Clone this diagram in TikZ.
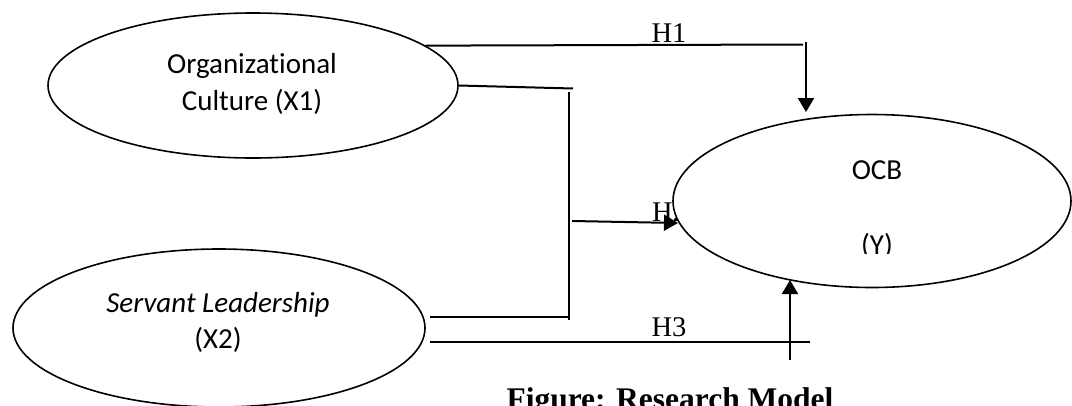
\documentclass[tikz,border=0pt]{standalone}
\usepackage{fontspec}
\setmainfont{Liberation Serif}
\newfontfamily\calibrifont[Ligatures=NoCommon]{Carlito}
\usetikzlibrary{shapes.geometric,arrows.meta}
\tikzset{
  construct/.style={draw, ellipse, line width=1.6pt, inner sep=0pt, fill=white},
  ctext/.style={anchor=base, inner sep=0pt, font=\calibrifont\fontsize{29}{35}\selectfont},
  hlabel/.style={anchor=base, inner sep=0pt, font=\fontsize{28.5}{34}\selectfont},
  conn/.style={line width=2pt},
  arr/.style={line width=2pt, -{Triangle[width=16pt,length=14pt]}},
}
\begin{document}
\begin{tikzpicture}[x=1pt,y=-1pt]
\useasboundingbox (0,0) rectangle (1072,405);
\clip (0,0) rectangle (1072,405);
% H2 label (partly hidden behind OCB)
\node[hlabel, anchor=base west] (h2) at (652,221) {H2};
% constructs
\node[construct, minimum width=410pt, minimum height=145pt] (e1) at (253,85.5) {};
\node[construct, minimum width=412pt, minimum height=158pt] (e2) at (219,328) {};
\node[construct, minimum width=398pt, minimum height=173pt] (y) at (872,201) {};
% texts
\node[ctext] (t1a) at (252,73) {Organizational};
\node[ctext] (t1b) at (252,110) {Culture (X1)};
\node[ctext] (t2a) at (218,312) {\itshape Servant Leadership};
\node[ctext] (t2b) at (218,348) {(X2)};
\node[ctext] (t3a) at (877,179) {OCB};
\begin{scope}
\clip (820,150) rectangle (940,253);
\node[ctext] (t3b) at (877,254) {(Y)};
\end{scope}
% coordinates
\coordinate (h1s) at (e1.13.7);
\coordinate (h1e) at (803,44.5);
\coordinate (h1a) at (806,42);
\coordinate (h1t) at (806,112);
\coordinate (m1e) at (573,88.5);
\coordinate (vtop) at (569,92);
\coordinate (vbot) at (569,320);
\coordinate (h2s) at (572,221);
\coordinate (h2t) at (678,223);
\coordinate (m2s) at (430,317);
\coordinate (m2e) at (568,317);
\coordinate (h3s) at (430,341.5);
\coordinate (h3e) at (810,341.5);
\coordinate (h3a) at (790,360);
\coordinate (h3t) at (790,280);
% connectors
\draw[conn] (h1s) -- (h1e);
\draw[arr] (h1a) -- (h1t);
\draw[conn] (e1.east) -- (m1e);
\draw[conn] (vtop) -- (vbot);
\draw[arr] (h2s) -- (h2t);
\draw[conn] (m2s) -- (m2e);
\draw[conn] (h3s) -- (h3e);
\draw[arr] (h3a) -- (h3t);
% labels
\node[hlabel] (h1) at (669,42) {H1};
\node[hlabel] (h3) at (669,336) {H3};
\node[anchor=base, inner sep=0pt, font=\bfseries\fontsize{31.5}{36}\selectfont] (cap) at (670,409) {Figure: Research Model};
\end{tikzpicture}
\end{document}
